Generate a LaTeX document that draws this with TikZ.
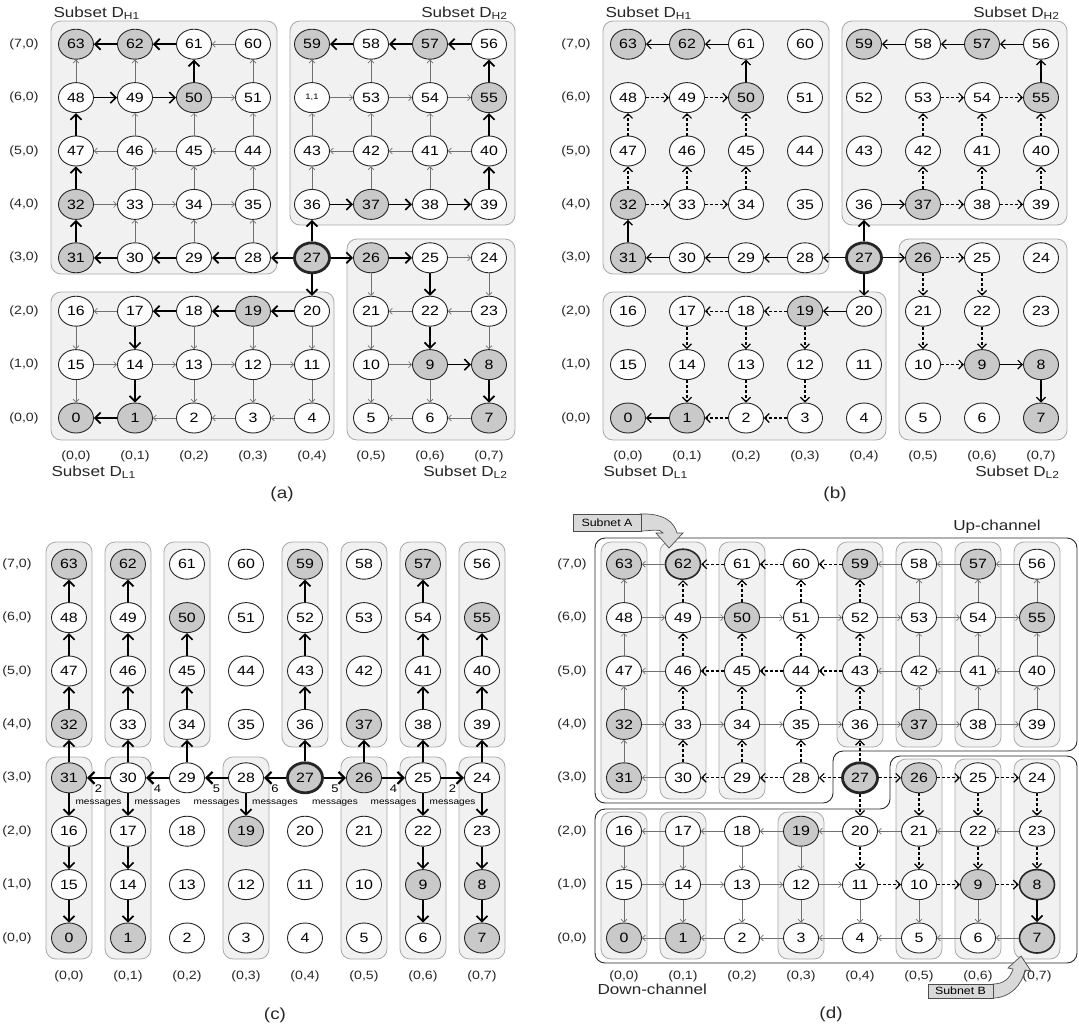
\documentclass[tikz,border=0pt]{standalone}
\usepackage{fontspec}
\setmainfont[FakeStretch=1.18]{Liberation Sans}
\usetikzlibrary{shapes.geometric, arrows.meta, positioning}

\definecolor{boxfill}{HTML}{F1F1F1}
\definecolor{boxline}{HTML}{A8A8A8}
\definecolor{hubfill}{HTML}{C9C9C9}
\definecolor{meshline}{HTML}{707070}

% gray (hub) nodes, thick-rimmed nodes of (d), odd label of (a)
\foreach \g in {0,1,7,8,9,19,26,27,31,32,37,50,55,57,59,62,63}{%
  \expandafter\gdef\csname hub\g\endcsname{}}
\expandafter\def\csname hld62\endcsname{}
\expandafter\def\csname hld8\endcsname{}
\expandafter\def\csname hld7\endcsname{}
\expandafter\def\csname txta52\endcsname{{\fontsize{8}{8}\selectfont 1,1}}

% 8x8 mesh: prefix, x of column 0, y of row 0
\newcommand{\meshgrid}[3]{%
  \foreach \rr in {0,...,7}{
    \node[lbl] (#1row\rr) at (#2-52, #3-53.4*\rr) {(\rr,0)};
    \node[lbl] (#1col\rr) at (#2+59*\rr, #3+38) {(0,\rr)};
    \foreach \cc in {0,...,7}{
      \pgfmathtruncatemacro{\id}{mod(\rr,2)==0 ? 8*\rr+\cc : 8*\rr+7-\cc}
      \ifcsname hub\id\endcsname\def\nfill{hubfill}\else\def\nfill{white}\fi
      \def\nlw{0.9pt}%
      \ifcsname hl#1\id\endcsname\def\nlw{1.6pt}\fi
      \ifnum\id=27 \def\nlw{2.8pt}\fi
      \node[nd, fill=\nfill, line width=\nlw] (#1\id) at (#2+59*\cc, #3-53.4*\rr)
        {\ifcsname txt#1\id\endcsname\csname txt#1\id\endcsname\else\id\fi};
    }
  }
}

\begin{document}
\begin{tikzpicture}[x=1pt, y=-1pt,
    nd/.style={ellipse, draw=black!85, minimum width=35pt, minimum height=30pt,
        inner sep=0pt, font=\fontsize{13.5}{13.5}\selectfont},
    lbl/.style={font=\fontsize{12}{12}\selectfont, text=black!85},
    ttl/.style={font=\fontsize{14.5}{15}\selectfont, text=black!85},
    panelcap/.style={font=\fontsize{16}{16}\selectfont, text=black!85},
    subset/.style={draw=boxline, fill=boxfill, rounded corners=10pt, line width=0.8pt},
    colbox/.style={draw=boxline, fill=boxfill, rounded corners=10pt, line width=0.8pt},
    channel/.style={draw=black!85, rounded corners=10pt, line width=0.9pt},
    mesh/.style={-{Straight Barb[length=3pt,width=6pt]}, draw=meshline, line width=0.65pt},
    hop/.style={-{Straight Barb[length=5.5pt,width=11pt]}, line width=1.7pt},
    leg/.style={-{Straight Barb[length=4.5pt,width=9pt]}, line width=1.2pt},
    dleg/.style={leg, dash pattern=on 3pt off 2pt},
    wide/.style={-{Straight Barb[length=6pt,width=12pt]}, line width=2.2pt},
    msg/.style={align=center, inner sep=1pt},
    callout/.style={draw=black!70, fill=black!15, line width=0.7pt},
]
\useasboundingbox (0,0) rectangle (1079,1026);

% --- (a) subsets and full mesh ---
\draw[subset] (51,21) rectangle (277,274);
\draw[subset] (290,21) rectangle (515,225);
\draw[subset] (51,292) rectangle (334,440);
\draw[subset] (347,239) rectangle (515,440);
\meshgrid{a}{76}{418}
\foreach \sa/\sb in {60/61, 48/63, 49/62, 51/60, 52/59, 53/58, 54/57,
    50/51, 52/53, 53/54, 54/55, 46/49, 45/50, 44/51, 43/52, 42/53, 41/54,
    46/47, 45/46, 44/45, 42/43, 41/42, 40/41, 33/46, 34/45, 35/44, 36/43,
    37/42, 38/41, 32/33, 33/34, 34/35, 30/33, 29/34, 28/35, 25/24, 26/21,
    24/23, 17/16, 22/21, 23/22, 16/15, 18/13, 19/12, 20/11, 21/10, 23/8,
    15/14, 14/13, 13/12, 12/11, 10/9, 15/0, 13/2, 12/3, 11/4, 10/5, 9/6,
    2/1, 3/2, 4/3, 6/5, 7/6}
  \draw[mesh] (a\sa) -- (a\sb);
\foreach \sa/\sb in {61/62, 62/63, 56/57, 57/58, 58/59, 50/61, 55/56,
    48/49, 49/50, 47/48, 40/55, 32/47, 39/40, 36/37, 37/38, 38/39, 31/32,
    27/36, 30/31, 29/30, 28/29, 27/28, 27/26, 26/25, 27/20, 25/22, 18/17,
    19/18, 20/19, 17/14, 22/9, 9/8, 14/1, 8/7, 1/0}
  \draw[hop] (a\sa) -- (a\sb);
\node[ttl, anchor=west] (aDH1) at (50,13) {Subset D\textsubscript{H1}};
\node[ttl, anchor=east] (aDH2) at (511,13) {Subset D\textsubscript{H2}};
\node[ttl, anchor=west] (aDL1) at (48,472) {Subset D\textsubscript{L1}};
\node[ttl, anchor=east] (aDL2) at (511,472) {Subset D\textsubscript{L2}};
\node[panelcap] (acap) at (282,494) {(a)};

% --- (b) subsets, only the used links ---
\draw[subset] (603,21) rectangle (829,274);
\draw[subset] (842,21) rectangle (1067,225);
\draw[subset] (603,292) rectangle (886,440);
\draw[subset] (899,239) rectangle (1067,440);
\meshgrid{b}{628}{418}
\foreach \sa/\sb in {61/62, 62/63, 56/57, 57/58, 58/59, 50/61, 55/56, 36/37,
    31/32, 30/31, 29/30, 28/29, 27/28, 27/26, 27/20, 20/19, 9/8, 8/7, 1/0}
  \draw[leg] (b\sa) -- (b\sb);
\draw[hop] (b27) -- (b36);
\foreach \sa/\sb in {48/49, 49/50, 53/54, 54/55, 47/48, 46/49, 45/50, 42/53,
    41/54, 40/55, 32/47, 33/46, 34/45, 37/42, 38/41, 39/40, 32/33, 33/34,
    37/38, 38/39, 26/25, 26/21, 25/22, 19/18, 18/17, 17/14, 18/13, 19/12,
    21/10, 22/9, 10/9, 14/1, 13/2, 12/3, 2/1, 3/2}
  \draw[dleg] (b\sa) -- (b\sb);
\node[ttl, anchor=west] (bDH1) at (602,13) {Subset D\textsubscript{H1}};
\node[ttl, anchor=east] (bDH2) at (1063,13) {Subset D\textsubscript{H2}};
\node[ttl, anchor=west] (bDL1) at (600,472) {Subset D\textsubscript{L1}};
\node[ttl, anchor=east] (bDL2) at (1063,472) {Subset D\textsubscript{L2}};
\node[panelcap] (bcap) at (835,494) {(b)};

% --- (c) column groups ---
\foreach \cc in {0,1,2,4,5,6,7}
  \draw[colbox] (69+59*\cc-23,542) rectangle (69+59*\cc+23,747);
\foreach \cc in {0,1,3,5,6,7}
  \draw[colbox] (69+59*\cc-23,757) rectangle (69+59*\cc+23,959);
\meshgrid{c}{69}{938}
\foreach \sa/\sb in {31/32, 32/47, 47/48, 48/63, 30/33, 33/46, 46/49, 49/62,
    29/34, 34/45, 45/50, 27/36, 36/43, 43/52, 52/59, 26/37, 25/38, 38/41,
    41/54, 54/57, 24/39, 39/40, 40/55, 31/16, 16/15, 15/0, 30/17, 17/14,
    14/1, 28/19, 25/22, 22/9, 9/6, 24/23, 23/8, 8/7}
  \draw[hop] (c\sa) -- (c\sb);
\foreach \sa/\sb/\num in {30/31/2, 29/30/4, 28/29/5, 27/28/6, 27/26/5,
    26/25/4, 25/24/2}
  \draw[wide] (c\sa) -- (c\sb)
    node[msg, midway, below=5pt] (cm\sa\sb)
    {{\fontsize{11}{9}\selectfont\num}\\{\fontsize{8.5}{9}\selectfont messages}};
\node[panelcap] (ccap) at (275,1015) {(c)};

% --- (d) up- and down-channel ---
\draw[channel] (595,538) -- (1077,538) -- (1077,751) -- (833,751)
    -- (833,803) -- (595,803) -- cycle;
\draw[channel] (595,809) -- (890,809) -- (890,756) -- (1077,756)
    -- (1077,963) -- (595,963) -- cycle;
\foreach \cc in {0,1,2}
  \draw[colbox] (624+59*\cc-23,542) rectangle (624+59*\cc+23,799);
\foreach \cc in {4,5,6,7}
  \draw[colbox] (624+59*\cc-23,542) rectangle (624+59*\cc+23,747);
\foreach \cc in {0,1,3}
  \draw[colbox] (624+59*\cc-23,812) rectangle (624+59*\cc+23,959);
\foreach \cc in {5,6,7}
  \draw[colbox] (624+59*\cc-23,759) rectangle (624+59*\cc+23,959);
\meshgrid{d}{624}{938}
\foreach \sa/\sb in {62/63, 58/59, 57/58, 56/57, 48/63, 53/58, 54/57, 55/56,
    48/49, 49/50, 50/51, 51/52, 52/53, 53/54, 54/55, 47/48, 42/53, 41/54,
    40/55, 46/47, 42/43, 41/42, 40/41, 32/47, 37/42, 38/41, 39/40, 32/33,
    33/34, 34/35, 35/36, 36/37, 37/38, 38/39, 31/32, 30/31, 17/16, 18/17,
    19/18, 20/19, 21/20, 22/21, 23/22, 16/15, 17/14, 18/13, 19/12, 15/14,
    14/13, 13/12, 12/11, 15/0, 14/1, 13/2, 12/3, 11/4, 10/5, 9/6, 1/0, 2/1,
    3/2, 4/3, 5/4, 6/5, 7/6}
  \draw[mesh] (d\sa) -- (d\sb);
\foreach \sa/\sb in {61/62, 60/61, 59/60, 49/62, 50/61, 51/60, 52/59, 46/49,
    45/50, 44/51, 43/52, 45/46, 44/45, 43/44, 33/46, 34/45, 35/44, 36/43,
    30/33, 29/34, 28/35, 27/36, 29/30, 28/29, 27/28, 27/26, 26/25, 25/24,
    27/20, 26/21, 25/22, 24/23, 20/11, 21/10, 22/9, 23/8, 11/10, 10/9, 9/8}
  \draw[dleg] (d\sa) -- (d\sb);
\draw[hop] (d8) -- (d7);

% subnet call-outs
\filldraw[callout] (640,514) .. controls (662,513) and (674,521) .. (677,533)
    -- (683,533) -- (669,548) -- (656,533) -- (663,533)
    .. controls (660,528) and (652,531) .. (640,531) -- cycle;
\node[callout, minimum width=68pt, minimum height=17pt, inner sep=0pt,
    font=\fontsize{10.5}{10.5}\selectfont] (subA) at (607,522.5) {Subnet A};
\filldraw[callout] (993,998) .. controls (1010,998) and (1022,985) .. (1025,970)
    -- (1031,971) -- (1021,956) -- (1008,968) -- (1013,969)
    .. controls (1010,979) and (1003,984) .. (993,984) -- cycle;
\node[callout, minimum width=65pt, minimum height=14pt, inner sep=0pt,
    font=\fontsize{10.5}{10.5}\selectfont] (subB) at (960.5,991) {Subnet B};

\node[ttl] (upch) at (997,527) {Up-channel};
\node[ttl, anchor=west] (dnch) at (594,989) {Down-channel};
\node[panelcap] (dcap) at (831,1014) {(d)};

\end{tikzpicture}
\end{document}
